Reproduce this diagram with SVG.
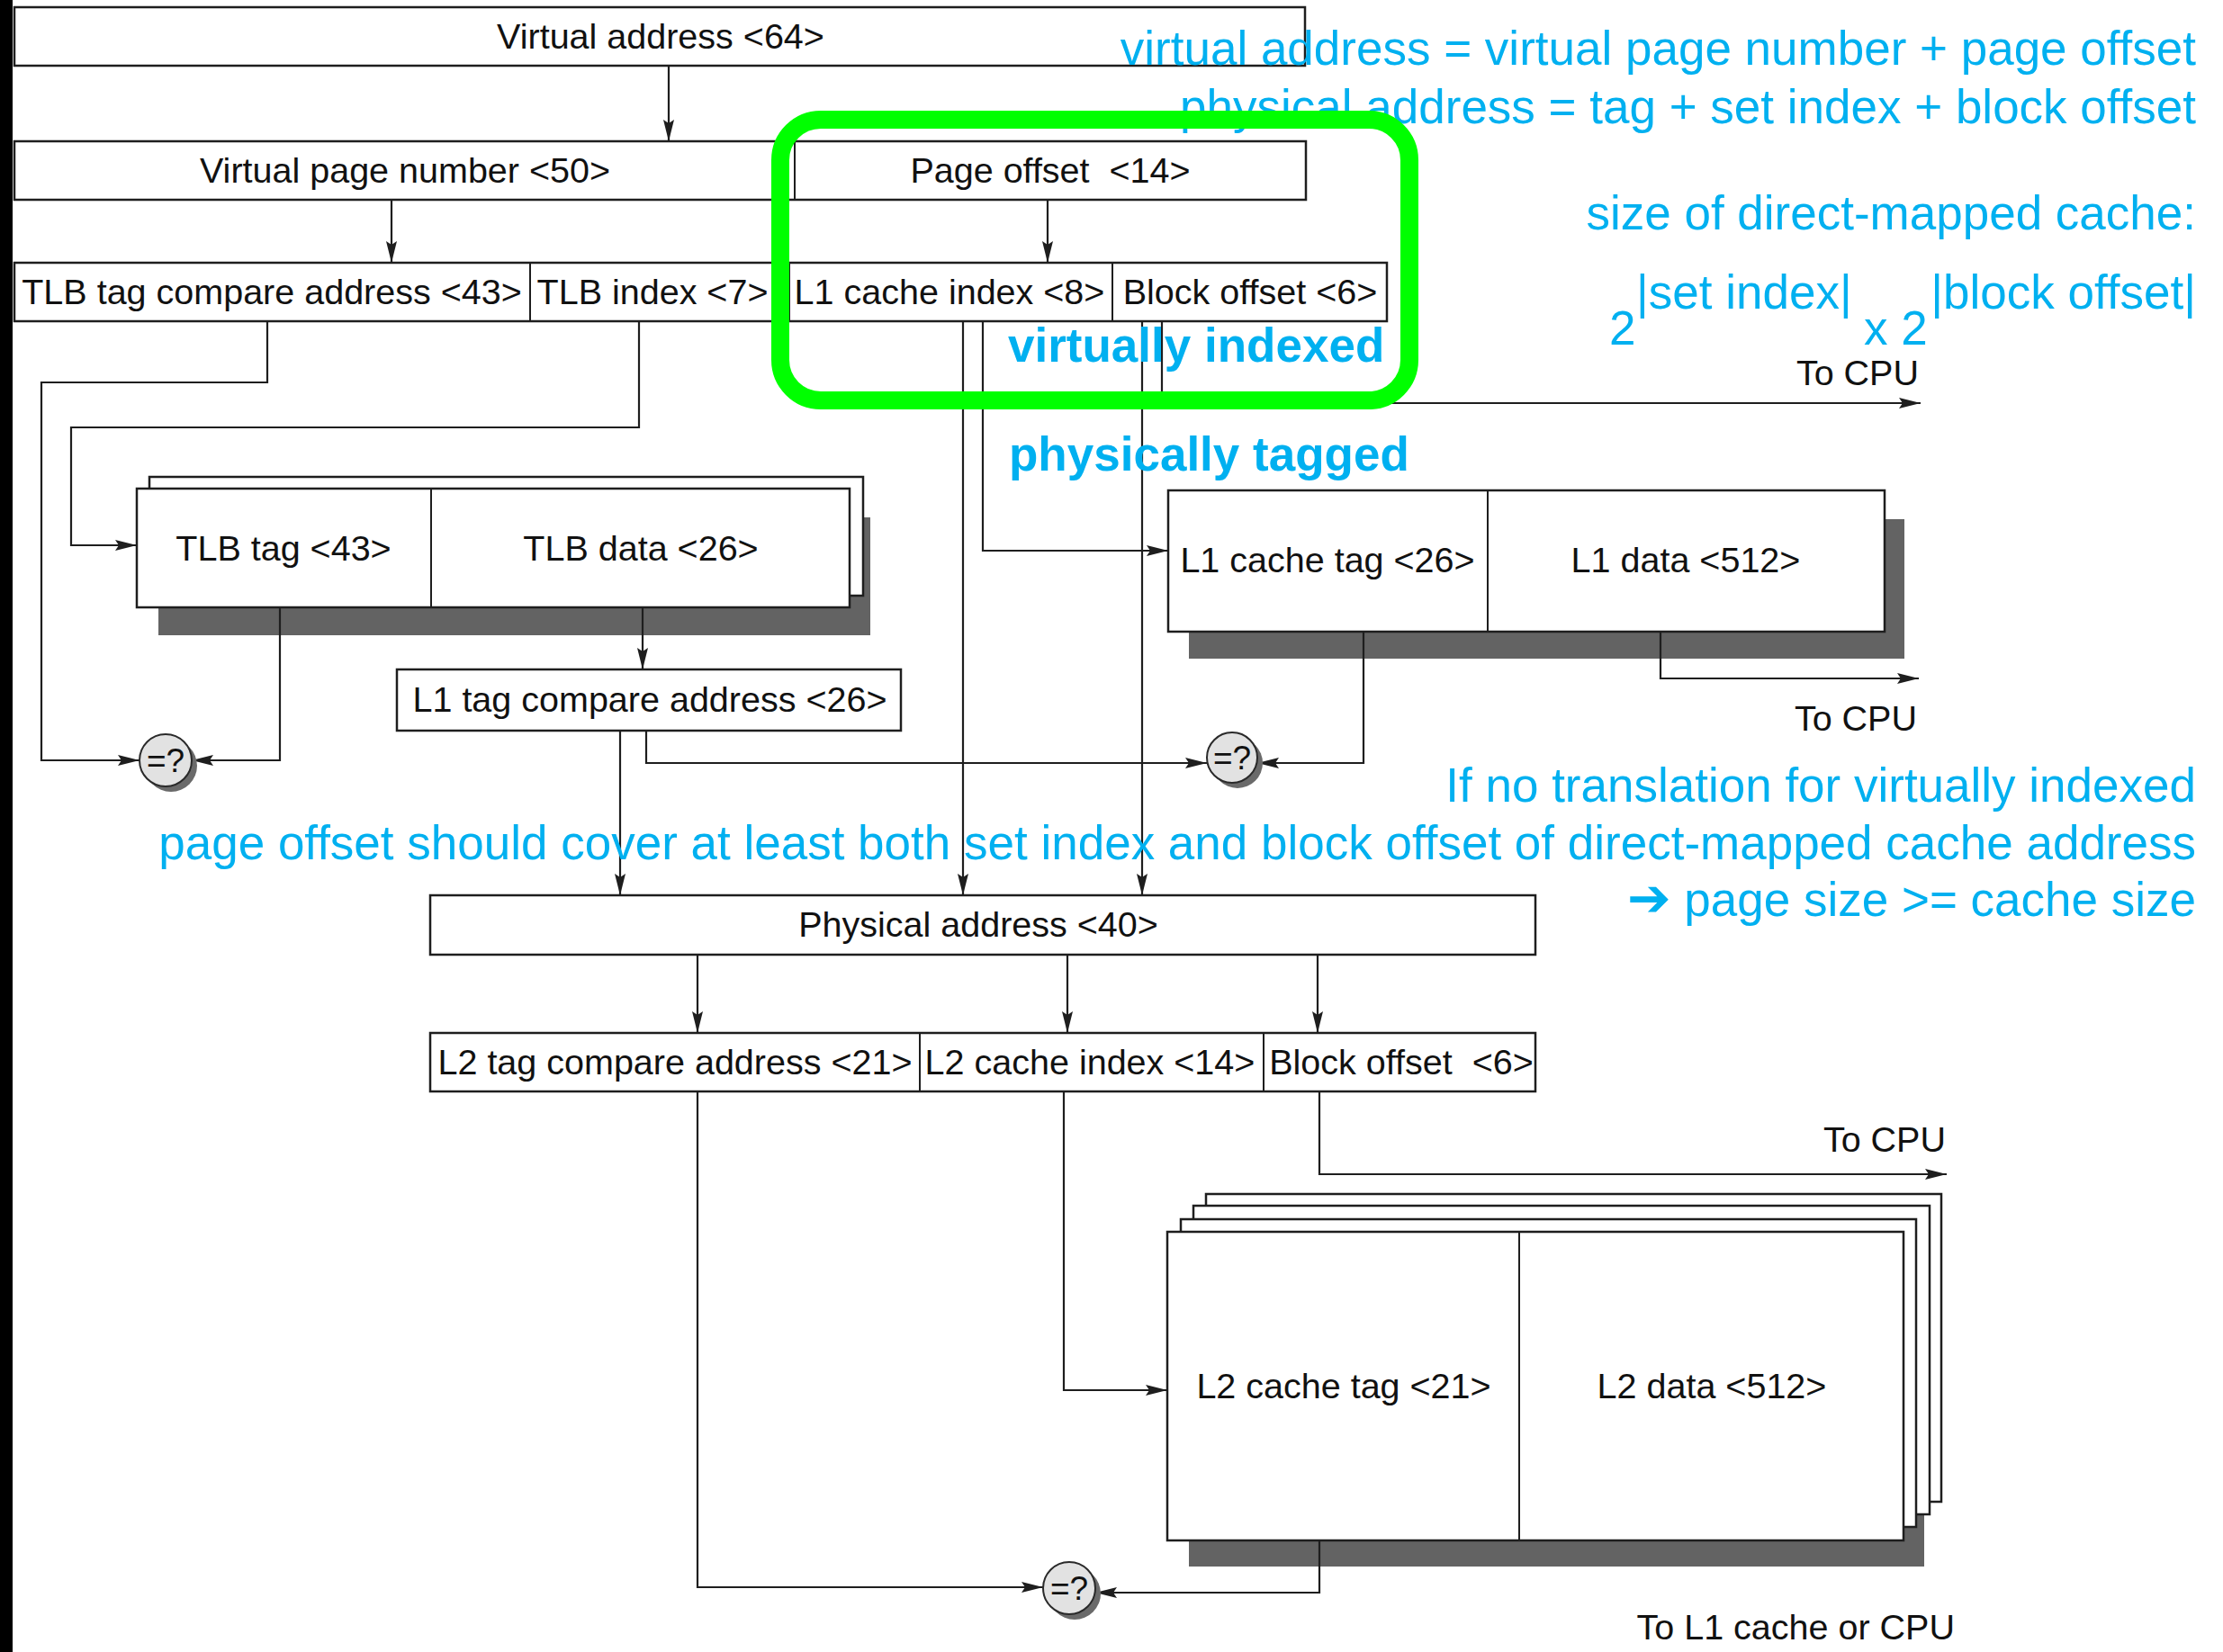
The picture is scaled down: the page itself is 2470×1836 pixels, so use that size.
<svg xmlns="http://www.w3.org/2000/svg" width="2470" height="1836" viewBox="0 0 2470 1836">
<style>
  .box { fill: #ffffff; stroke: #1e1e1e; stroke-width: 2.5; }
  .div { stroke: #1e1e1e; stroke-width: 2; }
  .shadow { fill: #636363; }
  .lbl { font-family: 'Liberation Sans', Arial, sans-serif; font-size: 39.5px; fill: #111111; text-anchor: middle; }
  .lbl-end { font-family: 'Liberation Sans', Arial, sans-serif; font-size: 39.5px; fill: #111111; text-anchor: end; }
  .wire { fill: none; stroke: #1e1e1e; stroke-width: 2.2; }
  .arr { marker-end: url(#ah); }
  .cmp { fill: #e2e2e2; stroke: #2a2a2a; stroke-width: 2; }
  .cmpsh { fill: #6a6a6a; }
  .cmpt { font-family: 'Liberation Sans', Arial, sans-serif; font-size: 37px; fill: #111111; text-anchor: middle; }
  .note { font-family: 'Liberation Sans', 'DejaVu Sans', Arial, sans-serif; font-size: 53px; fill: #00B0F0; text-anchor: end; }
  .note-b { font-family: 'Liberation Sans', Arial, sans-serif; font-size: 53px; font-weight: bold; fill: #00B0F0; }
  .note-s { font-family: 'Liberation Sans', Arial, sans-serif; font-size: 53px; fill: #00B0F0; }
</style>
<defs>
  <marker id="ah" viewBox="0 0 24 12" refX="24" refY="6" markerWidth="24" markerHeight="12" markerUnits="userSpaceOnUse" orient="auto">
    <path d="M0,0 L24,6 L0,12 L4,6 z" fill="#1e1e1e"/>
  </marker>
</defs>

<rect x="0" y="0" width="2470" height="1836" fill="#ffffff"/>
<rect x="0" y="0" width="14" height="1836" fill="#000000"/>

<!-- Virtual address -->
<g id="virtual-address">
  <rect class="box" x="16" y="8" width="1434" height="65"/>
  <text class="lbl" x="734" y="54">Virtual address &lt;64&gt;</text>
</g>

<!-- VPN / Page offset -->
<g id="vpn-row">
  <rect class="box" x="16" y="157" width="1435" height="65"/>
  <line class="div" x1="883" y1="157" x2="883" y2="222"/>
  <text class="lbl" x="450" y="203">Virtual page number &lt;50&gt;</text>
  <text class="lbl" x="1167" y="203" xml:space="preserve">Page offset  &lt;14&gt;</text>
</g>

<!-- Row 3 -->
<g id="l1-address-row">
  <rect class="box" x="16" y="292" width="1525" height="65"/>
  <line class="div" x1="589" y1="292" x2="589" y2="357"/>
  <line class="div" x1="877" y1="292" x2="877" y2="357"/>
  <line class="div" x1="1236" y1="292" x2="1236" y2="357"/>
  <text class="lbl" x="302" y="338">TLB tag compare address &lt;43&gt;</text>
  <text class="lbl" x="725" y="338">TLB index &lt;7&gt;</text>
  <text class="lbl" x="1055" y="338">L1 cache index &lt;8&gt;</text>
  <text class="lbl" x="1389" y="338">Block offset &lt;6&gt;</text>
</g>

<!-- TLB -->
<g id="tlb">
  <rect class="shadow" x="176" y="575" width="791" height="131"/>
  <rect class="box" x="166" y="530" width="793" height="132"/>
  <rect class="box" x="152" y="543" width="792" height="132"/>
  <line class="div" x1="479" y1="543" x2="479" y2="675"/>
  <text class="lbl" x="315" y="623">TLB tag &lt;43&gt;</text>
  <text class="lbl" x="712" y="623">TLB data &lt;26&gt;</text>
</g>

<!-- L1 tag compare address -->
<g id="l1-tag-compare">
  <rect class="box" x="441" y="744" width="560" height="68"/>
  <text class="lbl" x="722" y="791">L1 tag compare address &lt;26&gt;</text>
</g>

<!-- L1 cache -->
<g id="l1-cache">
  <rect class="shadow" x="1321" y="577" width="795" height="155"/>
  <rect class="box" x="1298" y="545" width="796" height="157"/>
  <line class="div" x1="1653" y1="545" x2="1653" y2="702"/>
  <text class="lbl" x="1475" y="636">L1 cache tag &lt;26&gt;</text>
  <text class="lbl" x="1873" y="636">L1 data &lt;512&gt;</text>
</g>

<!-- Physical address -->
<g id="physical-address">
  <rect class="box" x="478" y="995" width="1228" height="66"/>
  <text class="lbl" x="1087" y="1041">Physical address &lt;40&gt;</text>
</g>

<!-- L2 address row -->
<g id="l2-address-row">
  <rect class="box" x="478" y="1148" width="1228" height="65"/>
  <line class="div" x1="1022" y1="1148" x2="1022" y2="1213"/>
  <line class="div" x1="1404" y1="1148" x2="1404" y2="1213"/>
  <text class="lbl" x="750" y="1194">L2 tag compare address &lt;21&gt;</text>
  <text class="lbl" x="1211" y="1194">L2 cache index &lt;14&gt;</text>
  <text class="lbl" x="1557" y="1194" xml:space="preserve">Block offset  &lt;6&gt;</text>
</g>

<!-- L2 cache -->
<g id="l2-cache">
  <rect class="shadow" x="1321" y="1400" width="817" height="341"/>
  <rect class="box" x="1340" y="1327" width="817" height="342"/>
  <rect class="box" x="1326" y="1340" width="818" height="343"/>
  <rect class="box" x="1312" y="1355" width="817" height="342"/>
  <rect class="box" x="1297" y="1369" width="818" height="343"/>
  <line class="div" x1="1688" y1="1369" x2="1688" y2="1712"/>
  <text class="lbl" x="1493" y="1554">L2 cache tag &lt;21&gt;</text>
  <text class="lbl" x="1902" y="1554">L2 data &lt;512&gt;</text>
</g>

<!-- Connectors -->
<g id="connectors">
  <path class="wire arr" d="M743,73 L743,157"/>
  <path class="wire arr" d="M435,222 L435,292"/>
  <path class="wire arr" d="M1164,222 L1164,292"/>
  <path class="wire arr" d="M297,357 L297,425 L46,425 L46,845 L155,845"/>
  <path class="wire arr" d="M710,357 L710,475 L79,475 L79,606 L152,606"/>
  <path class="wire arr" d="M311,675 L311,845 L213,845"/>
  <path class="wire arr" d="M714,675 L714,744"/>
  <path class="wire arr" d="M689,812 L689,995"/>
  <path class="wire arr" d="M718,812 L718,848 L1341,848"/>
  <path class="wire arr" d="M1070,357 L1070,995"/>
  <path class="wire arr" d="M1092,357 L1092,612 L1298,612"/>
  <path class="wire arr" d="M1269,357 L1269,995"/>
  <path class="wire arr" d="M1291,357 L1291,448 L2134,448"/>
  <path class="wire arr" d="M1845,702 L1845,754 L2132,754"/>
  <path class="wire arr" d="M1515,702 L1515,848 L1397,848"/>
  <path class="wire arr" d="M775,1061 L775,1148"/>
  <path class="wire arr" d="M1186,1061 L1186,1148"/>
  <path class="wire arr" d="M1464,1061 L1464,1148"/>
  <path class="wire arr" d="M1466,1213 L1466,1305 L2163,1305"/>
  <path class="wire arr" d="M1182,1213 L1182,1545 L1297,1545"/>
  <path class="wire arr" d="M775,1213 L775,1764 L1159,1764"/>
  <path class="wire arr" d="M1466,1712 L1466,1770 L1217,1770"/>
</g>

<!-- Comparators -->
<g id="cmp-tlb">
  <circle class="cmpsh" cx="190" cy="851" r="29"/>
  <circle class="cmp" cx="184" cy="845" r="29"/>
  <text class="cmpt" x="184" y="858">=?</text>
</g>
<g id="cmp-l1">
  <circle class="cmpsh" cx="1375" cy="848" r="28"/>
  <circle class="cmp" cx="1369" cy="842" r="28"/>
  <text class="cmpt" x="1369" y="855">=?</text>
</g>
<g id="cmp-l2">
  <circle class="cmpsh" cx="1194" cy="1771" r="29"/>
  <circle class="cmp" cx="1188" cy="1765" r="29"/>
  <text class="cmpt" x="1188" y="1778">=?</text>
</g>

<!-- Output labels -->
<g id="labels">
  <text class="lbl-end" x="2132" y="428">To CPU</text>
  <text class="lbl-end" x="2130" y="812">To CPU</text>
  <text class="lbl-end" x="2162" y="1280">To CPU</text>
  <text class="lbl-end" x="2172" y="1822">To L1 cache or CPU</text>
</g>

<!-- Annotations -->
<g id="annotations">
  <text class="note" x="2440" y="72">virtual address = virtual page number + page offset</text>
  <text class="note" x="2440" y="137">physical address = tag + set index + block offset</text>
  <text class="note" x="2440" y="255">size of direct-mapped cache:</text>
  <text class="note-s" x="1788" y="383">2</text>
  <text class="note-s" x="1818" y="343">|set index|</text>
  <text class="note-s" x="2071" y="383">x 2</text>
  <text class="note" x="2440" y="343">|block offset|</text>
  <text class="note-b" x="1120" y="402">virtually indexed</text>
  <text class="note-b" x="1121" y="523">physically tagged</text>
  <text class="note" x="2440" y="891">If no translation for virtually indexed</text>
  <text class="note" x="2440" y="955">page offset should cover at least both set index and block offset of direct-mapped cache address</text>
  <text class="note" x="2440" y="1018"><tspan font-weight="bold" font-size="58px">➔</tspan> page size &gt;= cache size</text>
</g>

<!-- Highlight -->
<g id="highlight">
  <rect x="867" y="133" width="699" height="312" rx="45" ry="45" fill="none" stroke="#00ff00" stroke-width="20"/>
</g>
</svg>
